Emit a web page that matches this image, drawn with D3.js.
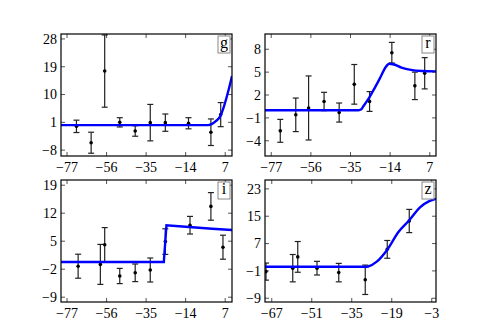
<!DOCTYPE html>
<html>
<head>
<meta charset="UTF-8">
<script src="https://d3js.org/d3.v7.min.js"></script>
<style>
  body { margin: 0; background: #fff; }
  svg { display: block; }
</style>
</head>
<body>
<svg></svg>
<script>
const width = 485, height = 336;

// band names
const bands = ["g", "r", "i", "z"];

// g band
const gX = [-72, -64.2, -57, -49, -40.8, -32.8, -24.8, -12.5, -0.6, 4.6];
const gY = [-0.3, -5.6, 17.6, 1.0, -1.8, 0.9, 0.9, 0.7, -2.2, 3.5];
const gErr = [2.0, 3.4, 11.7, 1.5, 1.7, 5.9, 2.8, 1.8, 4.3, 3.9];
const gLineX = [-80.2, -2, 0, 2, 4.4, 6.5, 8.5, 10.6];
const gLineY = [0.1, 0.1, 0.5, 1.4, 3.0, 6.5, 10.8, 16.0];

// r band
const rX = [-72.2, -64, -57.2, -49, -41, -33, -24.9, -13.1, -0.9, 4.3];
const rY = [-2.7, -0.6, 0.3, 1.15, -0.3, 3.4, 1.15, 7.55, 3.2, 4.85];
const rErr = [1.5, 2.2, 4.2, 1.2, 1.25, 2.6, 1.3, 1.35, 1.8, 2.05];
const rLineX = [-80.3, -31, -29.5, -28, -25, -22, -19, -16.5, -14.5, -12, -8, -3, 3, 10.3];
const rLineY = [0.0, 0.0, 0.1, 0.6, 1.7, 3.0, 4.4, 5.6, 6.1, 6.0, 5.6, 5.3, 5.15, 5.1];

// i band
const iX = [-71.1, -59.3, -57, -49, -40.8, -32.8, -24.8, -11.7, -0.6, 5.8];
const iY = [-1.25, -0.8, 4.1, -3.7, -2.9, -2.2, 4.9, 9.0, 13.7, 3.5];
const iErr = [3.0, 5.0, 4.3, 1.9, 2.2, 3.0, 3.2, 2.2, 3.45, 3.0];
const iLineX = [-80.2, -25.6, -24.2, -14, 0, 10.6];
const iLineY = [-0.2, -0.2, 9.0, 8.6, 8.1, 7.8];

// z band
const zX = [-69.3, -58.6, -56.6, -48.9, -40.2, -29.6, -20.8, -12.0];
const zY = [-1.2, -0.2, 3.1, -0.2, -1.5, -3.6, 5.3, 13.6];
const zErr = [2.5, 4.0, 4.5, 2.0, 2.7, 4.3, 2.6, 3.4];
const zLineX = [-69.7, -29.5, -28.4, -25, -20.8, -16.4, -12, -7.7, -4, -1.3];
const zLineY = [0.2, 0.2, 0.3, 1.7, 5.2, 10.3, 13.8, 17.6, 19.4, 20.1];

// axes
const xTicksA = [-77, -56, -35, -14, 7];
const xTicksZ = [-67, -51, -35, -19, -3];
const gTicks = [-8, 1, 10, 19, 28];
const rTicks = [-4, -1, 2, 5, 8];
const iTicks = [-9, -2, 5, 12, 19];
const zTicks = [-9, -1, 7, 15, 23];

const panels = [
  {name: "g", x: gX, y: gY, e: gErr, lx: gLineX, ly: gLineY, xt: xTicksA, yt: gTicks,
   xd: [-80.2, 10.6], yd: [-9.9, 29.6], left: 61, top: 34},
  {name: "r", x: rX, y: rY, e: rErr, lx: rLineX, ly: rLineY, xt: xTicksA, yt: rTicks,
   xd: [-80.3, 10.3], yd: [-6, 10], left: 265, top: 34},
  {name: "i", x: iX, y: iY, e: iErr, lx: iLineX, ly: iLineY, xt: xTicksA, yt: iTicks,
   xd: [-80.2, 10.6], yd: [-10.2, 20.3], left: 61, top: 180},
  {name: "z", x: zX, y: zY, e: zErr, lx: zLineX, ly: zLineY, xt: xTicksZ, yt: zTicks,
   xd: [-69.7, -1.3], yd: [-10.1, 25.6], left: 265, top: 180}
];
const pw = 171, ph = 122;
const serif = "'Liberation Serif', 'Times New Roman', 'DejaVu Serif', serif";

const svg = d3.select("svg")
    .attr("width", width)
    .attr("height", height)
    .attr("font-family", serif);

const fmt = d => (d < 0 ? "\u2212" + Math.abs(d) : "" + d);

panels.forEach((p, k) => {
  const g = svg.append("g").attr("transform", `translate(${p.left},${p.top})`);
  const x = d3.scaleLinear().domain(p.xd).range([0, pw]);
  const y = d3.scaleLinear().domain(p.yd).range([ph, 0]);

  g.append("clipPath").attr("id", "c" + k)
    .append("rect").attr("width", pw).attr("height", ph);

  // inward ticks on all sides
  const tk = 4;
  p.xt.forEach(t => {
    g.append("line").attr("x1", x(t)).attr("x2", x(t)).attr("y1", ph).attr("y2", ph - tk)
      .attr("stroke", "#555");
    g.append("line").attr("x1", x(t)).attr("x2", x(t)).attr("y1", 0).attr("y2", tk)
      .attr("stroke", "#555");
    g.append("text").attr("x", x(t)).attr("y", ph + 16)
      .attr("text-anchor", "middle").attr("font-size", 14).attr("font-family", serif).text(fmt(t));
  });
  p.yt.forEach(t => {
    g.append("line").attr("x1", 0).attr("x2", tk).attr("y1", y(t)).attr("y2", y(t))
      .attr("stroke", "#555");
    g.append("line").attr("x1", pw).attr("x2", pw - tk).attr("y1", y(t)).attr("y2", y(t))
      .attr("stroke", "#555");
    g.append("text").attr("x", -4).attr("y", y(t)).attr("dy", "0.35em")
      .attr("text-anchor", "end").attr("font-size", 14).attr("font-family", serif).text(fmt(t));
  });

  const pts = p.x.map((v, j) => ({x: v, y: p.y[j], e: p.e[j]}));
  const inner = g.append("g").attr("clip-path", `url(#c${k})`);

  // error bars
  const eb = inner.selectAll(".eb").data(pts).enter().append("g").attr("stroke", "#222").attr("stroke-width", 1.2);
  eb.append("line").attr("x1", d => x(d.x)).attr("x2", d => x(d.x))
    .attr("y1", d => y(d.y - d.e)).attr("y2", d => y(d.y + d.e));
  eb.append("line").attr("x1", d => x(d.x) - 3).attr("x2", d => x(d.x) + 3)
    .attr("y1", d => y(d.y - d.e)).attr("y2", d => y(d.y - d.e));
  eb.append("line").attr("x1", d => x(d.x) - 3).attr("x2", d => x(d.x) + 3)
    .attr("y1", d => y(d.y + d.e)).attr("y2", d => y(d.y + d.e));

  inner.selectAll(".pt").data(pts).enter().append("circle")
    .attr("cx", d => x(d.x)).attr("cy", d => y(d.y)).attr("r", 1.8).attr("fill", "#000");

  // model curve
  const line = d3.line().x(d => x(d[0])).y(d => y(d[1]))
    .curve(p.name === "i" ? d3.curveLinear : d3.curveMonotoneX);
  inner.append("path").datum(p.lx.map((v, j) => [v, p.ly[j]]))
    .attr("d", line).attr("fill", "none").attr("stroke", "#0000ff").attr("stroke-width", 2.4);

  // frame
  g.append("rect").attr("width", pw).attr("height", ph)
    .attr("fill", "none").attr("stroke", "#000").attr("stroke-width", 1.2);

  // band label box
  g.append("rect").attr("x", pw - 14).attr("y", 2).attr("width", 12).attr("height", 17)
    .attr("fill", "#fff").attr("stroke", "#888").attr("stroke-width", 1);
  g.append("text").attr("x", pw - 8).attr("y", 14).attr("text-anchor", "middle")
    .attr("font-size", 16).attr("font-family", serif).text(p.name);
});
</script>
</body>
</html>
